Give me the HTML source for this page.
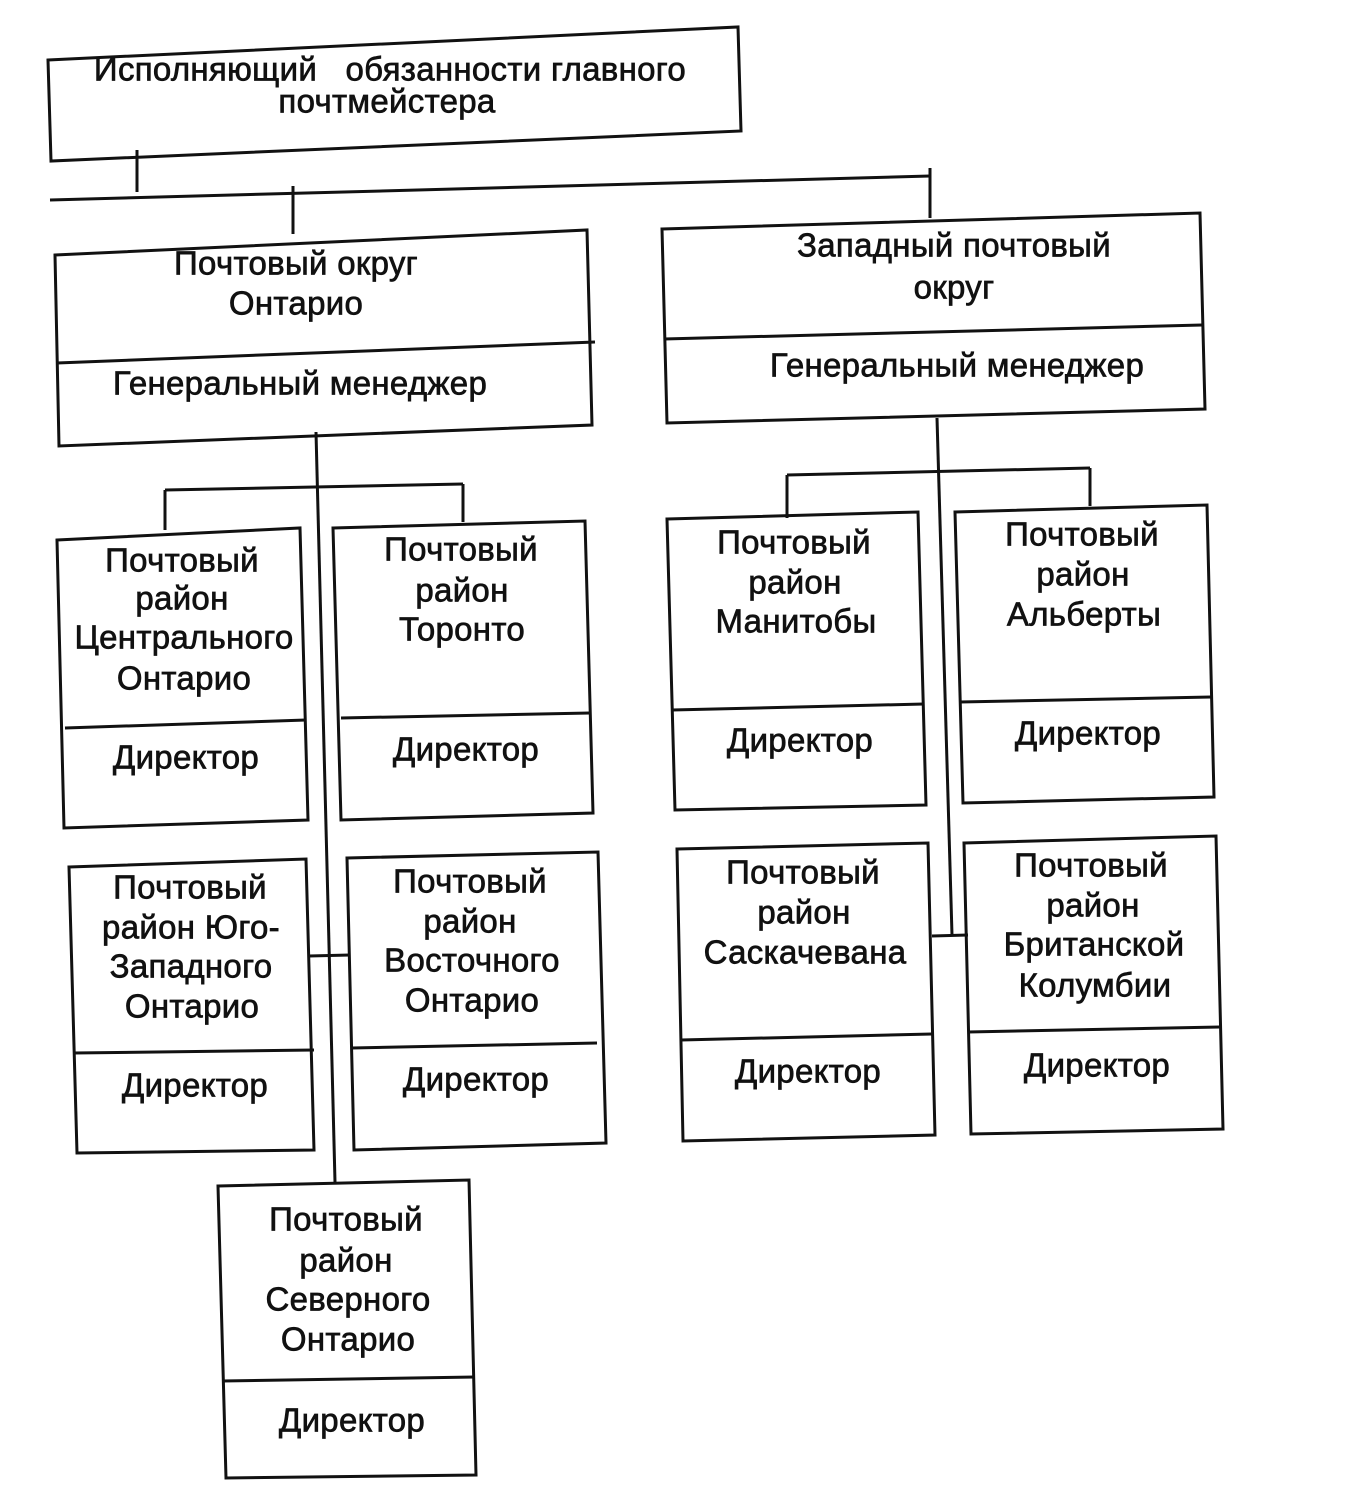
<!DOCTYPE html>
<html><head><meta charset="utf-8"><style>
html,body{margin:0;padding:0;background:#fff;}
svg{display:block}
text{font-family:"Liberation Sans",sans-serif;font-size:33px;letter-spacing:0.3px;fill:#111;text-anchor:middle;dominant-baseline:middle;stroke:#111;stroke-width:0.7px}
.pre{white-space:pre}
.s{fill:none;stroke:#111;stroke-width:3}
</style></head><body>
<svg width="1358" height="1495" viewBox="0 0 1358 1495">
<g class="s">
<polygon points="48,60 738,27 741,131 51,161"/>
<line x1="50" y1="200" x2="930" y2="176"/>
<line x1="137" y1="150" x2="137" y2="192"/>
<line x1="293" y1="186" x2="293" y2="234"/>
<line x1="930" y1="168" x2="930" y2="218"/>

<polygon points="55,255 587,230 592,425 59,446"/>
<line x1="57" y1="363" x2="595" y2="342"/>
<polygon points="662,229 1200,213 1205,409 667,423"/>
<line x1="664" y1="339" x2="1202" y2="325"/>

<line x1="316" y1="432" x2="335" y2="1182"/>
<line x1="165" y1="490" x2="463" y2="484"/>
<line x1="165" y1="490" x2="165" y2="530"/>
<line x1="463" y1="484" x2="463" y2="522"/>
<line x1="309" y1="956" x2="350" y2="955"/>

<polygon points="57,540 300,528 308,820 64,828"/>
<line x1="65" y1="728" x2="306" y2="720"/>
<polygon points="333,528 585,521 593,813 341,820"/>
<line x1="341" y1="718" x2="590" y2="713"/>
<polygon points="69,867 306,859 314,1150 77,1153"/>
<line x1="74" y1="1053" x2="314" y2="1050"/>
<polygon points="347,858 598,852 606,1143 354,1150"/>
<line x1="352" y1="1048" x2="597" y2="1043"/>
<polygon points="218,1186 469,1180 476,1475 226,1478"/>
<line x1="222" y1="1381" x2="475" y2="1377"/>

<line x1="937" y1="418" x2="952" y2="935"/>
<line x1="787" y1="475" x2="1090" y2="468"/>
<line x1="787" y1="475" x2="787" y2="518"/>
<line x1="1090" y1="468" x2="1090" y2="506"/>
<line x1="932" y1="936" x2="968" y2="935"/>

<polygon points="667,519 918,512 926,805 675,810"/>
<line x1="672" y1="710" x2="924" y2="704"/>
<polygon points="955,512 1207,505 1214,797 963,803"/>
<line x1="960" y1="702" x2="1211" y2="697"/>
<polygon points="677,849 928,843 935,1135 683,1141"/>
<line x1="681" y1="1040" x2="932" y2="1034"/>
<polygon points="964,843 1216,836 1223,1129 971,1134"/>
<line x1="968" y1="1032" x2="1220" y2="1027"/>
</g>

<text class="pre" x="390" y="72">Исполняющий   обязанности главного</text>
<text x="387" y="104">почтмейстера</text>

<text x="296" y="266">Почтовый округ</text>
<text x="296" y="306">Онтарио</text>
<text x="300" y="386">Генеральный менеджер</text>

<text x="954" y="248">Западный почтовый</text>
<text x="954" y="290">округ</text>
<text x="957" y="368">Генеральный менеджер</text>

<text x="182" y="563">Почтовый</text>
<text x="182" y="601">район</text>
<text x="184" y="640">Центрального</text>
<text x="184" y="681">Онтарио</text>
<text x="186" y="760">Директор</text>

<text x="461" y="552">Почтовый</text>
<text x="462" y="593">район</text>
<text x="462" y="632">Торонто</text>
<text x="466" y="752">Директор</text>

<text x="190" y="890">Почтовый</text>
<text x="191" y="930">район Юго-</text>
<text x="191" y="969">Западного</text>
<text x="192" y="1009">Онтарио</text>
<text x="195" y="1088">Директор</text>

<text x="470" y="884">Почтовый</text>
<text x="470" y="924">район</text>
<text x="472" y="963">Восточного</text>
<text x="472" y="1003">Онтарио</text>
<text x="476" y="1082">Директор</text>

<text x="346" y="1222">Почтовый</text>
<text x="346" y="1263">район</text>
<text x="348" y="1302">Северного</text>
<text x="348" y="1342">Онтарио</text>
<text x="352" y="1423">Директор</text>

<text x="794" y="545">Почтовый</text>
<text x="795" y="585">район</text>
<text x="796" y="624">Манитобы</text>
<text x="800" y="743">Директор</text>

<text x="1082" y="537">Почтовый</text>
<text x="1083" y="577">район</text>
<text x="1084" y="617">Альберты</text>
<text x="1088" y="736">Директор</text>

<text x="803" y="875">Почтовый</text>
<text x="804" y="915">район</text>
<text x="805" y="955">Саскачевана</text>
<text x="808" y="1074">Директор</text>

<text x="1091" y="868">Почтовый</text>
<text x="1093" y="908">район</text>
<text x="1094" y="947">Британской</text>
<text x="1095" y="988">Колумбии</text>
<text x="1097" y="1068">Директор</text>
</svg>
</body></html>
